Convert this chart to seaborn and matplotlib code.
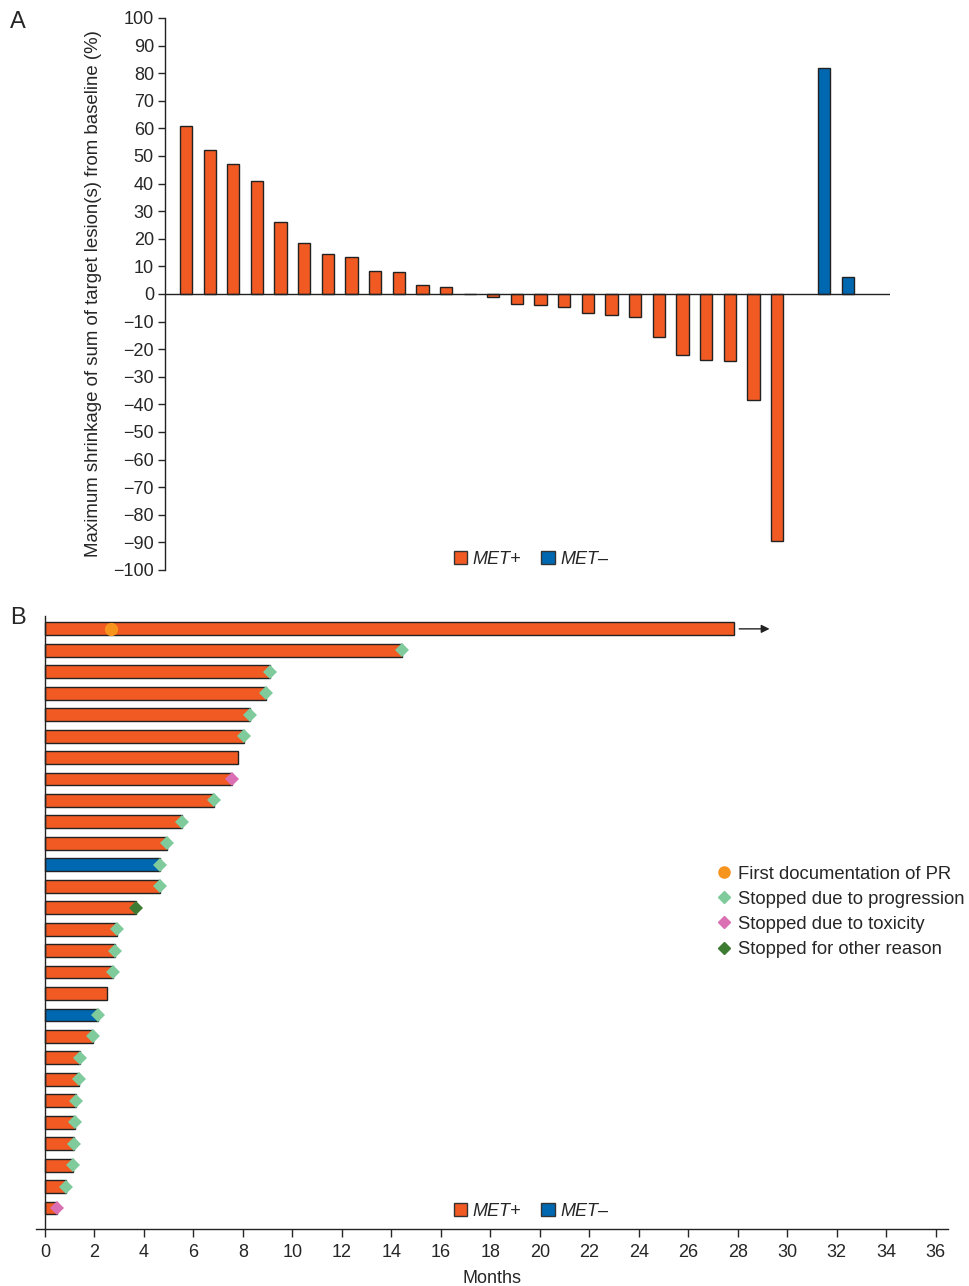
import numpy as np
import pandas as pd
import matplotlib
matplotlib.use("Agg")
import matplotlib.pyplot as plt
from matplotlib.patches import Patch
from matplotlib.lines import Line2D
import seaborn as sns

# ---------------- data ----------------
# Panel A: maximum shrinkage (%) waterfall
shrink_met_pos = [61, 52, 47, 41, 26, 18.5, 14.5, 13.4, 8.3, 8, 3.3, 2.4, 0,
                  -1, -3.6, -4.1, -4.7, -7, -7.5, -8.5, -15.5, -22, -23.8, -24.2,
                  -38.5, -89.4]
shrink_met_neg = [82, 6.3]

# Panel B: time on treatment (months), top to bottom
durations = [27.85, 14.43, 9.11, 8.95, 8.27, 8.04, 7.82, 7.56, 6.85, 5.56, 4.94,
             4.64, 4.64, 3.70, 2.92, 2.82, 2.76, 2.51, 2.15, 1.95, 1.41, 1.36,
             1.26, 1.22, 1.18, 1.13, 0.87, 0.47]
groups_b = ["MET+"] * 11 + ["MET\u2013"] + ["MET+"] * 6 + ["MET\u2013"] + ["MET+"] * 9
events = ["ongoing", "prog", "prog", "prog", "prog", "prog", "none", "tox", "prog",
          "prog", "prog", "prog", "prog", "other", "prog", "prog", "prog", "none",
          "prog", "prog", "prog", "prog", "prog", "prog", "prog", "prog", "prog", "tox"]
pr_month = [2.66]
pr_row = [0]

y_ticks_a = list(range(-100, 101, 10))
x_ticks_b = list(range(0, 37, 2))

# ---------------- style ----------------
sns.set_theme(style="ticks")
plt.rcParams["font.family"] = ["Liberation Sans", "DejaVu Sans"]
plt.rcParams["axes.unicode_minus"] = True

ORANGE = "#F15A22"
BLUE = "#0067B1"
palette = {"MET+": ORANGE, "MET\u2013": BLUE}
ev_style = {
    "prog": ("D", "#7FCB9C", "Stopped due to progression"),
    "tox": ("D", "#DB6FB4", "Stopped due to toxicity"),
    "other": ("D", "#3E7B33", "Stopped for other reason"),
}

fig = plt.figure(figsize=(9.7, 12.86), dpi=100)

# ---------------- Panel A ----------------
axA = fig.add_axes([165 / 970, 1 - 570 / 1286, (890 - 165) / 970, (570 - 18) / 1286])
ids_pos = [f"p{i}" for i in range(len(shrink_met_pos))]
ids_neg = [f"n{i}" for i in range(len(shrink_met_neg))]
order_a = ids_pos + ["gap"] + ids_neg
dfA = pd.DataFrame({
    "pid": ids_pos + ids_neg,
    "value": shrink_met_pos + shrink_met_neg,
    "group": ["MET+"] * len(ids_pos) + ["MET\u2013"] * len(ids_neg),
})
sns.barplot(data=dfA, x="pid", y="value", hue="group", order=order_a,
            palette=palette, saturation=1, dodge=False, width=0.52,
            edgecolor="#222222", linewidth=1.0, legend=False, ax=axA)
axA.set_xlim(-0.89, 29.78)
axA.set_ylim(-100, 100)
axA.set_yticks(y_ticks_a)
axA.tick_params(axis="y", labelsize=13, length=5, width=1, direction="out", pad=3)
axA.set_xticks([])
axA.set_xlabel("")
axA.set_ylabel("Maximum shrinkage of sum of target lesion(s) from baseline (%)",
               fontsize=13.4, labelpad=8)
for s in ["top", "right", "bottom"]:
    axA.spines[s].set_visible(False)
axA.spines["left"].set_linewidth(1)
axA.spines["left"].set_color("#222222")
axA.axhline(0, color="#222222", lw=1, zorder=1)
axA.legend(handles=[Patch(facecolor=ORANGE, edgecolor="#333333", label="MET+"),
                    Patch(facecolor=BLUE, edgecolor="#333333", label="MET\u2013")],
           loc="center", bbox_to_anchor=(531 / 970, 1 - 559 / 1286),
           bbox_transform=fig.transFigure, ncol=2, frameon=False,
           prop={"style": "italic", "size": 13}, handlelength=0.75,
           handleheight=0.75, handletextpad=0.3, columnspacing=1.1)

# ---------------- Panel B ----------------
axB = fig.add_axes([36 / 970, 1 - 1229 / 1286, (948 - 36) / 970, (1229 - 616) / 1286])
rows = [f"r{i}" for i in range(len(durations))]
dfB = pd.DataFrame({"row": rows, "months": durations, "group": groups_b})
sns.barplot(data=dfB, x="months", y="row", hue="group", order=rows, orient="h",
            palette=palette, saturation=1, dodge=False, width=0.6,
            edgecolor="#222222", linewidth=1.0, legend=False, ax=axB)
for i, (d, e) in enumerate(zip(durations, events)):
    if e in ev_style:
        m, c, _ = ev_style[e]
        axB.plot(d, i, marker=m, color=c, markersize=7, markeredgewidth=0, zorder=5)
    elif e == "ongoing":
        axB.annotate("", xy=(d + 1.55, i), xytext=(d + 0.1, i),
                     arrowprops=dict(arrowstyle="-|>", color="#222222", lw=1,
                                     mutation_scale=12))
axB.plot(pr_month, pr_row, "o", color="#F7941D", markersize=8.5, zorder=5)

axB.set_xlim(-0.36, 36.5)
axB.set_ylim(len(durations) - 0.02, -0.6)
axB.set_xticks(x_ticks_b)
axB.set_yticks([])
axB.set_ylabel("")
axB.set_xlabel("Months", fontsize=13, labelpad=6)
axB.tick_params(axis="x", labelsize=13, length=6, width=1, direction="out", pad=5)
for s in ["top", "right"]:
    axB.spines[s].set_visible(False)
axB.spines["left"].set_position(("data", 0))
for s in ["left", "bottom"]:
    axB.spines[s].set_linewidth(1)
    axB.spines[s].set_color("#222222")

axB.legend(handles=[Patch(facecolor=ORANGE, edgecolor="#333333", label="MET+"),
                    Patch(facecolor=BLUE, edgecolor="#333333", label="MET\u2013")],
           loc="center", bbox_to_anchor=(531 / 970, 1 - 1211 / 1286),
           bbox_transform=fig.transFigure, ncol=2, frameon=False,
           prop={"style": "italic", "size": 13}, handlelength=0.75,
           handleheight=0.75, handletextpad=0.3, columnspacing=1.1)

ev_handles = [Line2D([], [], marker="o", color="#F7941D", lw=0, markersize=8,
                     label="First documentation of PR")]
for k in ["prog", "tox", "other"]:
    m, c, lab = ev_style[k]
    ev_handles.append(Line2D([], [], marker=m, color=c, lw=0, markersize=6.5, label=lab))
fig.legend(handles=ev_handles, loc="upper left",
           bbox_to_anchor=(700 / 970, 1 - 849 / 1286), frameon=False,
           fontsize=13.3, handlelength=0.8, handletextpad=0.35, labelspacing=0.44)

fig.text(10 / 970, 1 - 22 / 1286, "A", fontsize=17, va="center", ha="left")
fig.text(10 / 970, 1 - 618 / 1286, "B", fontsize=17, va="center", ha="left")

fig.savefig("out.png", dpi=100)
